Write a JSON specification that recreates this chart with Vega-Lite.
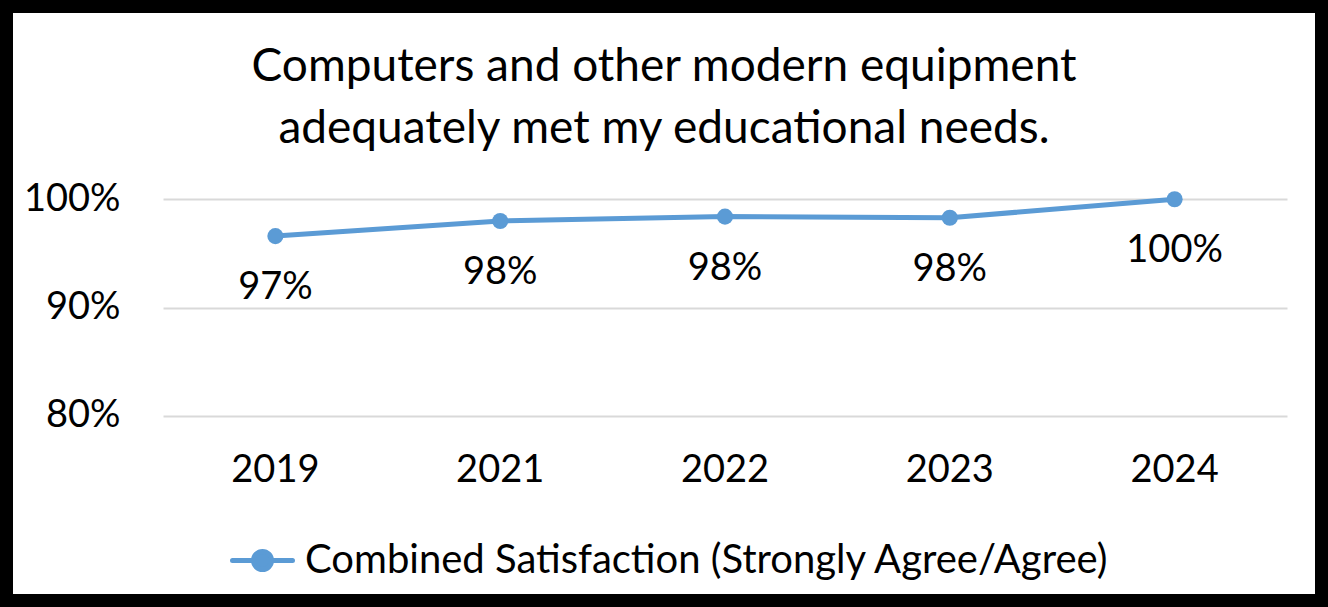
{
  "$schema": "https://vega.github.io/schema/vega-lite/v6.json",
  "width": 1328,
  "height": 607,
  "autosize": "none",
  "padding": 0,
  "background": "white",
  "view": {"stroke": "black", "strokeWidth": 26, "fill": "white"},
  "title": {
    "text": ["Computers and other modern equipment", "adequately met my educational needs."],
    "anchor": "middle",
    "frame": "group",
    "font": "Lato",
    "fontSize": 46,
    "fontWeight": "normal",
    "color": "black",
    "lineHeight": 62,
    "baseline": "top",
    "offset": -153
  },
  "data": {
    "values": [
      {"year": "2019", "value": 0.966, "series": "Combined Satisfaction (Strongly Agree/Agree)"},
      {"year": "2021", "value": 0.980, "series": "Combined Satisfaction (Strongly Agree/Agree)"},
      {"year": "2022", "value": 0.984, "series": "Combined Satisfaction (Strongly Agree/Agree)"},
      {"year": "2023", "value": 0.983, "series": "Combined Satisfaction (Strongly Agree/Agree)"},
      {"year": "2024", "value": 1.0, "series": "Combined Satisfaction (Strongly Agree/Agree)"}
    ]
  },
  "encoding": {
    "x": {
      "field": "year",
      "type": "ordinal",
      "scale": {"type": "band", "range": [163, 1287], "paddingInner": 0, "paddingOuter": 0},
      "axis": {
        "orient": "bottom",
        "offset": -170,
        "domain": false,
        "ticks": false,
        "grid": false,
        "labelPadding": 14,
        "labelFont": "Lato",
        "labelFontSize": 38,
        "labelColor": "black",
        "labelAngle": 0,
        "title": null
      }
    },
    "y": {
      "field": "value",
      "type": "quantitative",
      "scale": {"domain": [0.6232, 1.1842], "nice": false, "zero": false},
      "axis": {
        "orient": "left",
        "offset": -1287,
        "domain": false,
        "grid": false,
        "ticks": true,
        "tickSize": 1124,
        "tickColor": "#d9d9d9",
        "tickWidth": 2,
        "labelPadding": 43,
        "values": [0.8, 0.9, 1.0],
        "format": ".0%",
        "labelFont": "Lato",
        "labelFontSize": 38,
        "labelColor": "black",
        "title": null
      }
    }
  },
  "layer": [
    {
      "mark": {"type": "line", "strokeWidth": 5, "point": {"filled": true, "size": 260}},
      "encoding": {
        "color": {
          "field": "series",
          "type": "nominal",
          "scale": {"range": ["#5b9bd5"]},
          "legend": {
            "title": null,
            "orient": "none",
            "legendX": 230,
            "legendY": 528,
            "padding": 0,
            "symbolType": "M-1,0H1M-0.3,0A0.3,0.3,0,1,0,0.3,0A0.3,0.3,0,1,0,-0.3,0",
            "symbolSize": 3600,
            "symbolStrokeWidth": 5,
            "labelFont": "Lato",
            "labelFontSize": 40,
            "labelColor": "black",
            "labelLimit": 0,
            "labelOffset": 10,
            "encode": {
              "symbols": {
                "update": {
                  "fill": {"value": "#5b9bd5"},
                  "stroke": {"value": "#5b9bd5"},
                  "strokeWidth": {"value": 5},
                  "strokeCap": {"value": "round"}
                }
              }
            }
          }
        }
      }
    },
    {
      "mark": {"type": "text", "dy": 52, "baseline": "middle", "align": "center", "font": "Lato", "fontSize": 38, "color": "black"},
      "encoding": {"text": {"field": "value", "type": "quantitative", "format": ".0%"}}
    }
  ]
}
